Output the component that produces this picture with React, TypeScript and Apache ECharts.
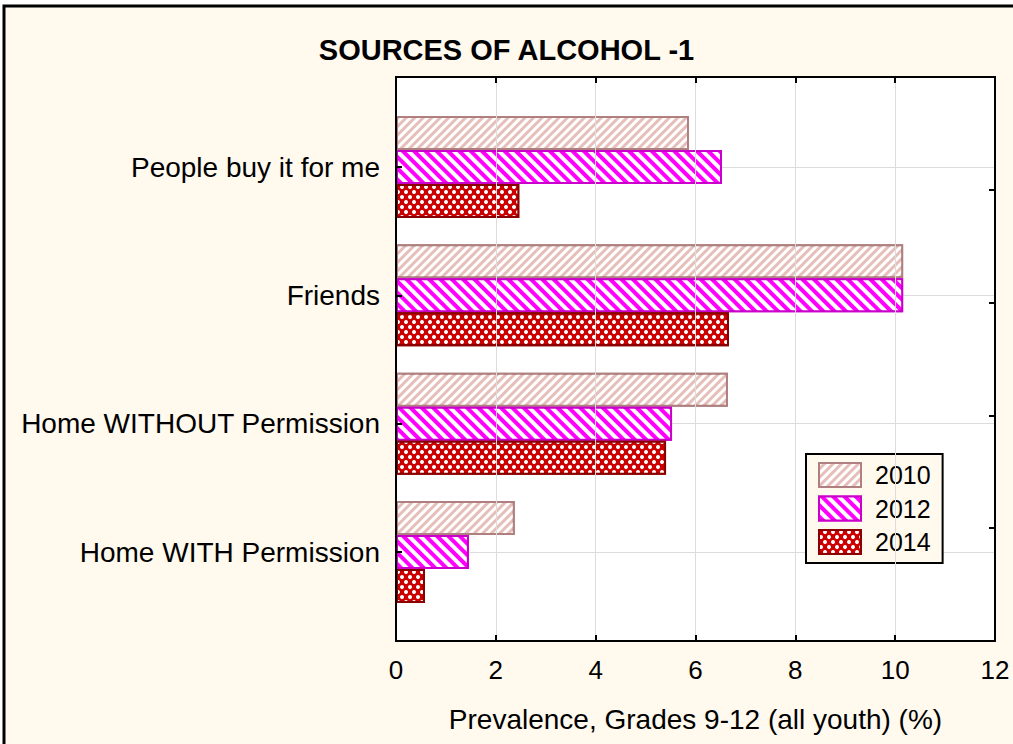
import React, { useEffect, useRef } from 'react';
import * as echarts from 'echarts';

const categories = ['Home WITH Permission', 'Home WITHOUT Permission', 'Friends', 'People buy it for me'];
const years = ['2010', '2012', '2014'];
const values2010 = [2.38, 6.65, 10.16, 5.87];
const values2012 = [1.46, 5.53, 10.16, 6.53];
const values2014 = [0.58, 5.41, 6.67, 2.47];
const xMin = 0;
const xMax = 12;
const xStep = 2;
const titleText = 'SOURCES OF ALCOHOL -1';
const xAxisName = 'Prevalence, Grades 9-12 (all youth) (%)';

const FONT = '"Liberation Sans", Arial, sans-serif';
const CREAM = '#FFF9EE';

export default function App() {
  const ref = useRef<HTMLDivElement>(null);
  useEffect(() => {
    if (!ref.current) return;
    const chart = echarts.init(ref.current, undefined, { renderer: 'svg' });
    const tickStyle = { show: true, inside: true, length: 6, lineStyle: { color: '#000', width: 2 } };
    const frameLine = { show: true, onZero: false, lineStyle: { color: '#000', width: 2 } };
    const barCommon = {
      type: 'bar',
      xAxisIndex: 2,
      yAxisIndex: 1,
      barWidth: 34,
      barGap: '0%',
      clip: false,
    };
    chart.setOption({
      animation: false,
      backgroundColor: '#fff',
      textStyle: { fontFamily: FONT },
      title: {
        text: titleText,
        left: 'center',
        top: 30,
        textStyle: { fontFamily: FONT, fontSize: 29, fontWeight: 'bold', color: '#000' },
      },
      graphic: {
        elements: [
          {
            type: 'rect',
            z: -100,
            silent: true,
            shape: { x: 4, y: 6, width: 1040, height: 780 },
            style: { fill: CREAM, stroke: '#000', lineWidth: 3 },
          },
        ],
      },
      legend: {
        orient: 'vertical',
        left: 806,
        top: 454,
        padding: [8, 12, 8, 12],
        itemWidth: 42,
        itemHeight: 24,
        itemGap: 7.5,
        icon: 'rect',
        backgroundColor: CREAM,
        borderColor: '#000',
        borderWidth: 2,
        data: years,
        textStyle: { fontFamily: FONT, fontSize: 25, lineHeight: 26, color: '#000', padding: [0, 0, 0, 9] },
      },
      grid: [
        { left: 396, top: 77, width: 599, height: 564, show: true, backgroundColor: '#fff', borderColor: '#000', borderWidth: 2 },
        { left: 396, top: 167, width: 599, height: 385, show: false },
      ],
      xAxis: [
        {
          gridIndex: 0,
          type: 'value',
          min: xMin,
          max: xMax,
          interval: xStep,
          position: 'bottom',
          axisLine: frameLine,
          axisTick: tickStyle,
          axisLabel: { fontSize: 26, color: '#000', margin: 16, fontFamily: FONT },
          splitLine: { show: true, lineStyle: { color: '#dcdcdc', width: 1 } },
          name: xAxisName,
          nameLocation: 'middle',
          nameGap: 64,
          nameTextStyle: { fontSize: 28, color: '#000', fontFamily: FONT },
          z: 5,
        },
        {
          gridIndex: 0,
          type: 'value',
          min: xMin,
          max: xMax,
          interval: xStep,
          position: 'top',
          axisLine: frameLine,
          axisTick: tickStyle,
          axisLabel: { show: false },
          splitLine: { show: false },
          z: 5,
        },
        { gridIndex: 1, type: 'value', min: xMin, max: xMax, show: false },
      ],
      yAxis: [
        {
          gridIndex: 0,
          type: 'value',
          min: 0,
          max: 5,
          interval: 1,
          position: 'right',
          axisLine: frameLine,
          axisTick: tickStyle,
          axisLabel: { show: false },
          splitLine: { show: false },
          z: 5,
        },
        {
          gridIndex: 1,
          type: 'category',
          data: categories,
          boundaryGap: false,
          axisLine: { show: false, onZero: false },
          axisTick: { show: false },
          axisLabel: { fontSize: 28, color: '#000', margin: 16, fontFamily: FONT },
          splitLine: { show: true, lineStyle: { color: '#dcdcdc', width: 1 } },
        },
        {
          gridIndex: 1,
          type: 'category',
          data: categories,
          boundaryGap: false,
          position: 'left',
          axisLine: { show: false, onZero: false },
          axisTick: tickStyle,
          axisLabel: { show: false },
          splitLine: { show: false },
          z: 5,
        },
        {
          gridIndex: 0,
          type: 'value',
          min: 0,
          max: 5,
          position: 'left',
          axisLine: frameLine,
          axisTick: { show: false },
          axisLabel: { show: false },
          splitLine: { show: false },
          z: 5,
        },
      ],
      series: [
        {
          ...barCommon,
          name: '2010',
          data: values2010,
          itemStyle: {
            color: '#E6BFBA',
            borderColor: '#B08080',
            borderWidth: 2,
            decal: {
              symbol: 'rect',
              symbolSize: 1,
              color: '#ffffff',
              dashArrayX: [1, 0],
              dashArrayY: [3, 3],
              rotation: -Math.PI / 4,
            },
          },
        },
        {
          ...barCommon,
          name: '2012',
          data: values2012,
          itemStyle: {
            color: '#FF00FF',
            borderColor: '#CC00CC',
            borderWidth: 2,
            decal: {
              symbol: 'rect',
              symbolSize: 1,
              color: '#ffffff',
              dashArrayX: [1, 0],
              dashArrayY: [4, 4],
              rotation: Math.PI / 4,
            },
          },
        },
        {
          ...barCommon,
          name: '2014',
          data: values2014,
          itemStyle: {
            color: '#CC0000',
            borderColor: '#8B0000',
            borderWidth: 2,
            decal: {
              symbol: 'circle',
              symbolSize: 1,
              color: '#ffffff',
              dashArrayX: [[4, 4], [0, 4, 4, 0]],
              dashArrayY: [3.5, 0.5],
              rotation: 0,
            },
          },
        },
      ],
    });
    return () => chart.dispose();
  }, []);
  return <div ref={ref} style={{ position: 'fixed', left: 0, top: 0, width: 1013, height: 744 }} />;
}
